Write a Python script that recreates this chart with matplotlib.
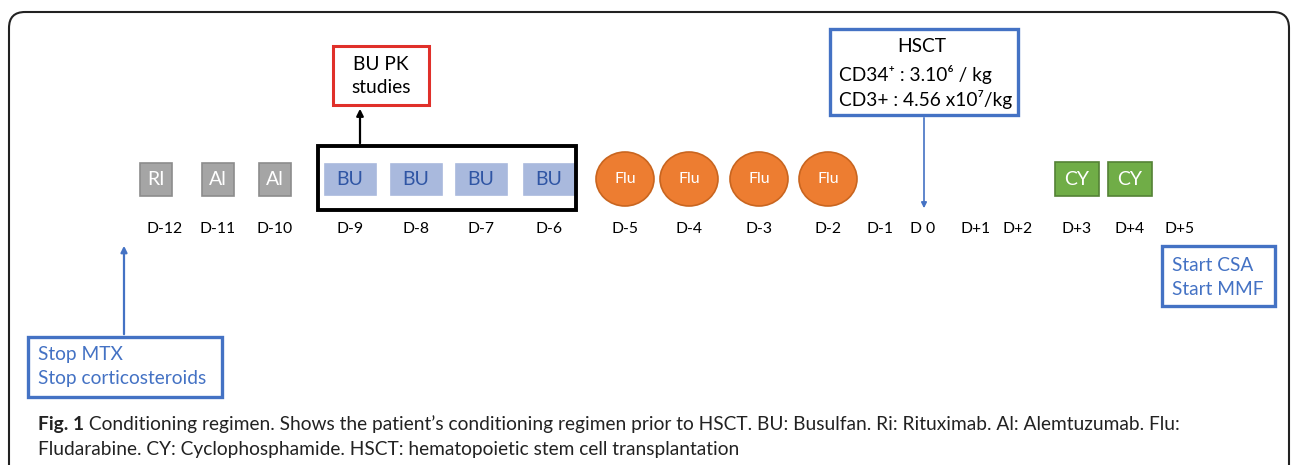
import matplotlib.pyplot as plt
from matplotlib.patches import Rectangle, Ellipse, FancyBboxPatch

plt.rcParams['font.family'] = ['Lato', 'DejaVu Sans']

# timeline data
days = ['D-12', 'D-11', 'D-10', 'D-9', 'D-8', 'D-7', 'D-6', 'D-5', 'D-4', 'D-3',
        'D-2', 'D-1', 'D 0', 'D+1', 'D+2', 'D+3', 'D+4', 'D+5']
drug_days = ['D-12', 'D-11', 'D-10', 'D-9', 'D-8', 'D-7', 'D-6',
             'D-5', 'D-4', 'D-3', 'D-2', 'D+3', 'D+4']
drugs = ['RI', 'Al', 'Al', 'BU', 'BU', 'BU', 'BU',
         'Flu', 'Flu', 'Flu', 'Flu', 'CY', 'CY']
pk_text = 'BU PK\nstudies'
hsct_lines = ['HSCT', 'CD34\u207a : 3.10\u2076 / kg', 'CD3+ : 4.56 x10\u2077/kg']
start_text = 'Start CSA\nStart MMF'
stop_text = 'Stop MTX\nStop corticosteroids'
caption_bold = 'Fig. 1'
caption_rest = (' Conditioning regimen. Shows the patient\u2019s conditioning regimen prior to HSCT. '
                'BU: Busulfan. Ri: Rituximab. Al: Alemtuzumab. Flu:')
caption_line2 = 'Fludarabine. CY: Cyclophosphamide. HSCT: hematopoietic stem cell transplantation'

# layout (pixel positions along the timeline)
day_x = [165, 218, 275, 350, 416, 481, 549, 625, 689, 759, 828, 880, 923, 976, 1018, 1077, 1130, 1180]
label_y = 229
mark_y = 179

styles = {
    'RI': dict(kind='rect', w=32, h=33, fc='#A5A5A5', ec='#8C8C8C', tc='white'),
    'Al': dict(kind='rect', w=32, h=33, fc='#A5A5A5', ec='#8C8C8C', tc='white'),
    'BU': dict(kind='rect', w=51, h=31, fc='#A9B9DD', ec='#A9B9DD', tc='#2F55A4'),
    'Flu': dict(kind='ell', w=58, h=54, fc='#ED7D31', ec='#C9651F', tc='white'),
    'CY': dict(kind='rect', w=44, h=34, fc='#70AD47', ec='#548235', tc='white'),
}
blue = '#4472C4'
fs_box = 13.8
fs_cap = 13.8

fig = plt.figure(figsize=(12.92, 4.65), dpi=100)
ax = fig.add_axes([0, 0, 1, 1])
ax.set_xlim(0, 1292)
ax.set_ylim(465, 0)
ax.axis('off')

# outer rounded frame
ax.add_patch(FancyBboxPatch((9, 12), 1280, 520, boxstyle='round,pad=0,rounding_size=16',
                            fc='none', ec='#222222', lw=1.5))

pos = dict(zip(days, day_x))
for d, x in zip(days, day_x):
    ax.text(x, label_y, d, ha='center', va='center', fontsize=11.3, color='black')

for d, name in zip(drug_days, drugs):
    s = styles[name]
    x = pos[d] - (9 if name == 'RI' else 0)
    if s['kind'] == 'rect':
        ax.add_patch(Rectangle((x - s['w'] / 2, mark_y - s['h'] / 2), s['w'], s['h'],
                               fc=s['fc'], ec=s['ec'], lw=1.2))
    else:
        ax.add_patch(Ellipse((x, mark_y), s['w'], s['h'], fc=s['fc'], ec=s['ec'], lw=1.2))
    fs = 11.5 if name == 'Flu' else 14
    ax.text(x, mark_y, name, ha='center', va='center', fontsize=fs, color=s['tc'])

# BU bracket box + PK arrow
ax.add_patch(Rectangle((318, 146), 258, 64, fc='none', ec='black', lw=2.8))
ax.annotate('', xy=(360, 106), xytext=(360, 146),
            arrowprops=dict(arrowstyle='-|>', color='black', lw=1.6, mutation_scale=10))
ax.add_patch(Rectangle((333, 46), 96, 59, fc='white', ec='#E0302A', lw=2.2))
ax.text(381, 76, pk_text, ha='center', va='center', fontsize=fs_box, linespacing=1.4)

# HSCT box + arrow
ax.add_patch(Rectangle((830, 29), 188, 86, fc='white', ec=blue, lw=2.4))
ax.text(922, 46, hsct_lines[0], ha='center', va='center', fontsize=fs_box)
ax.text(839, 74, hsct_lines[1], ha='left', va='center', fontsize=fs_box)
ax.text(839, 99, hsct_lines[2], ha='left', va='center', fontsize=fs_box)
ax.annotate('', xy=(924, 211), xytext=(924, 115),
            arrowprops=dict(arrowstyle='-|>', color=blue, lw=1.2, mutation_scale=8))

# start box
ax.add_patch(Rectangle((1162, 246), 113, 60, fc='white', ec=blue, lw=2.4))
ax.text(1172, 277, start_text, ha='left', va='center', fontsize=fs_box, color=blue,
        linespacing=1.5)

# stop box + arrow
ax.add_patch(Rectangle((28, 337), 194, 60, fc='white', ec=blue, lw=2.4))
ax.text(38, 366, stop_text, ha='left', va='center', fontsize=fs_box, color=blue,
        linespacing=1.5)
ax.annotate('', xy=(124, 243), xytext=(124, 337),
            arrowprops=dict(arrowstyle='-|>', color=blue, lw=1.6, mutation_scale=9))

# caption: bold "Fig. 1" then the rest on the same line
t = ax.text(38, 424, caption_bold, ha='left', va='center', fontsize=fs_cap, fontweight='bold',
            color='#222222')
fig.canvas.draw()
bb = t.get_window_extent()
x_rest = ax.transData.inverted().transform((bb.x1, bb.y0))[0]
ax.text(x_rest, 424, caption_rest, ha='left', va='center', fontsize=fs_cap, color='#222222')
ax.text(38, 449, caption_line2, ha='left', va='center', fontsize=fs_cap, color='#222222')

fig.savefig('out.png', dpi=100)
